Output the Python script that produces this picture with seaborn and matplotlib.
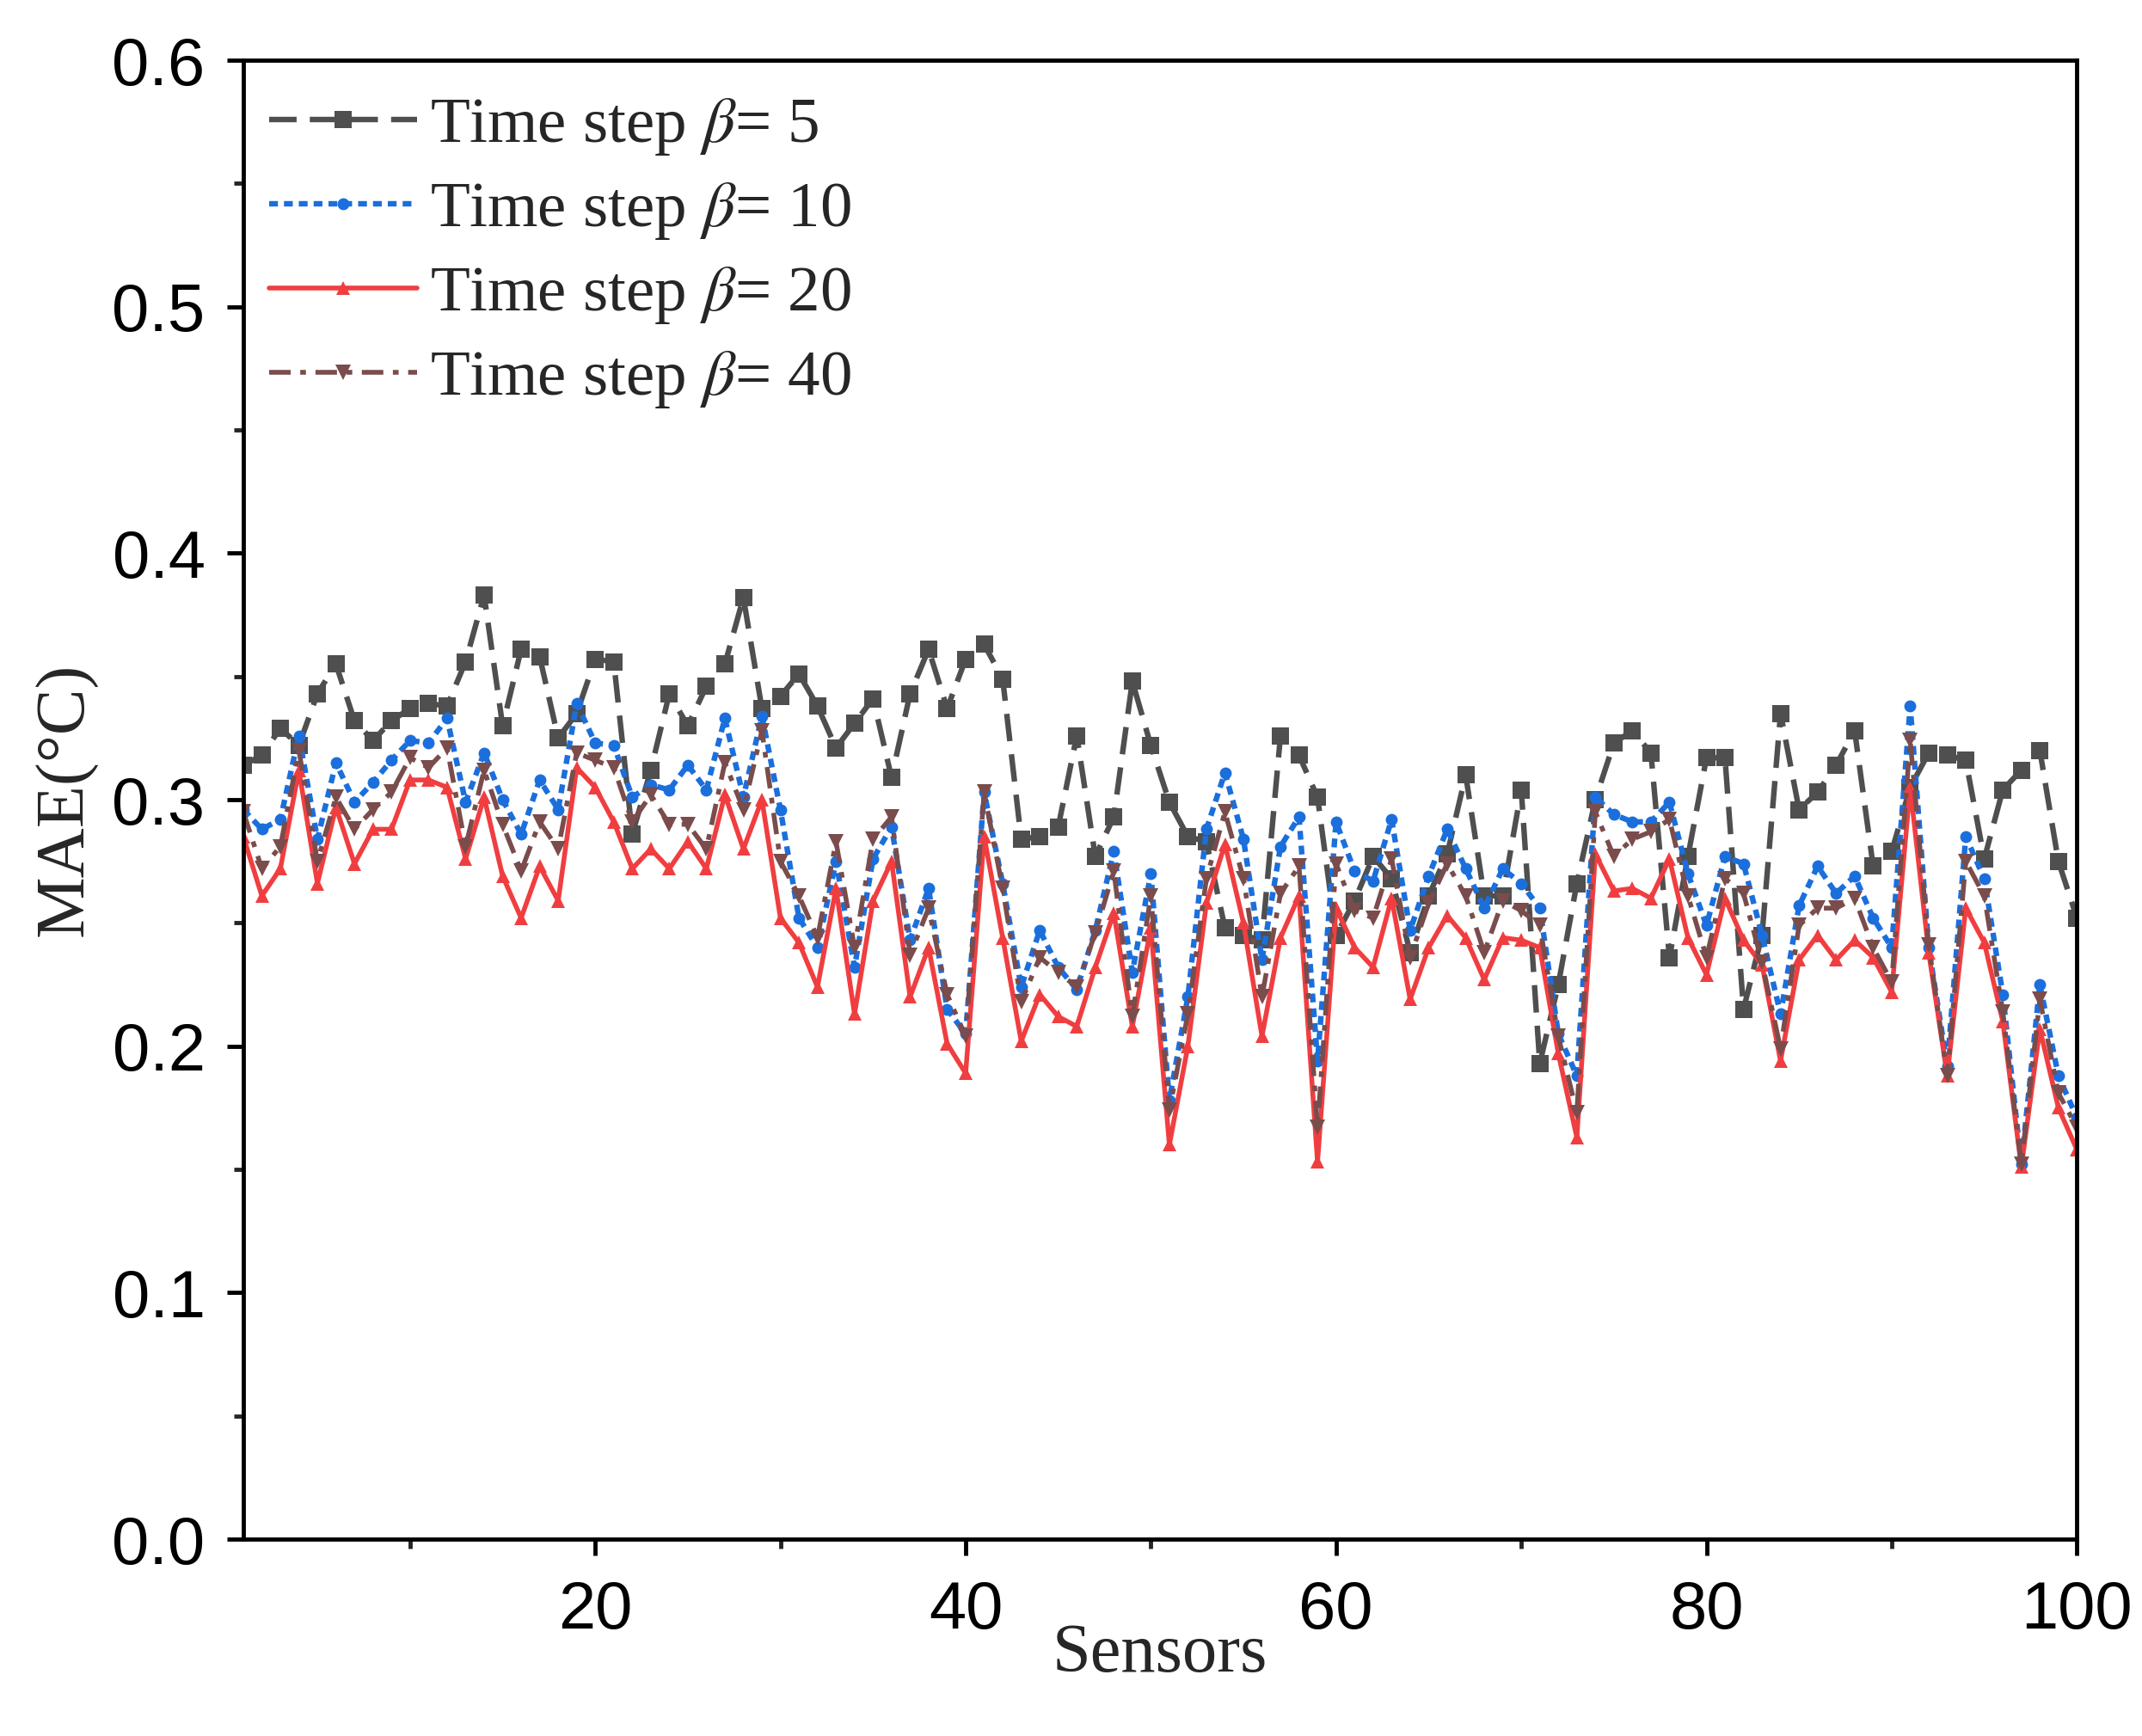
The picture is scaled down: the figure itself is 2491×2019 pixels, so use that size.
import numpy as np
import pandas as pd
import matplotlib
matplotlib.use("Agg")
import matplotlib.pyplot as plt
from matplotlib.ticker import MultipleLocator
import seaborn as sns

sensors = np.arange(1, 101)

mae_beta5 = [0.314, 0.318, 0.329, 0.322, 0.343, 0.355, 0.332, 0.324, 0.332, 0.337,
             0.339, 0.338, 0.356, 0.383, 0.330, 0.361, 0.358, 0.325, 0.335, 0.357,
             0.356, 0.286, 0.312, 0.343, 0.330, 0.346, 0.355, 0.382, 0.337, 0.342,
             0.351, 0.338, 0.321, 0.331, 0.341, 0.309, 0.343, 0.361, 0.337, 0.357,
             0.363, 0.349, 0.284, 0.285, 0.289, 0.326, 0.277, 0.293, 0.348, 0.322,
             0.299, 0.285, 0.283, 0.248, 0.245, 0.243, 0.326, 0.318, 0.301, 0.245,
             0.259, 0.277, 0.268, 0.238, 0.261, 0.278, 0.310, 0.261, 0.261, 0.304,
             0.193, 0.225, 0.266, 0.300, 0.323, 0.328, 0.319, 0.236, 0.277, 0.317,
             0.317, 0.215, 0.245, 0.335, 0.296, 0.303, 0.314, 0.328, 0.273, 0.279,
             0.305, 0.319, 0.318, 0.316, 0.276, 0.304, 0.312, 0.320, 0.275, 0.252]

mae_beta10 = [0.296, 0.288, 0.292, 0.326, 0.284, 0.315, 0.299, 0.307, 0.316, 0.324,
              0.323, 0.333, 0.299, 0.319, 0.300, 0.286, 0.308, 0.296, 0.339, 0.323,
              0.322, 0.301, 0.306, 0.304, 0.314, 0.304, 0.333, 0.301, 0.334, 0.296,
              0.252, 0.240, 0.275, 0.232, 0.276, 0.289, 0.243, 0.264, 0.215, 0.205,
              0.303, 0.266, 0.224, 0.247, 0.232, 0.223, 0.247, 0.279, 0.230, 0.270,
              0.178, 0.220, 0.288, 0.311, 0.284, 0.235, 0.281, 0.293, 0.194, 0.291,
              0.271, 0.267, 0.292, 0.247, 0.269, 0.288, 0.272, 0.256, 0.272, 0.266,
              0.256, 0.205, 0.188, 0.301, 0.294, 0.291, 0.291, 0.299, 0.270, 0.249,
              0.277, 0.274, 0.245, 0.213, 0.257, 0.273, 0.262, 0.269, 0.252, 0.240,
              0.338, 0.240, 0.192, 0.285, 0.268, 0.221, 0.152, 0.225, 0.188, 0.171]

mae_beta20 = [0.285, 0.261, 0.272, 0.312, 0.266, 0.297, 0.274, 0.288, 0.288, 0.308,
              0.308, 0.305, 0.276, 0.301, 0.269, 0.252, 0.273, 0.259, 0.313, 0.305,
              0.291, 0.272, 0.280, 0.272, 0.283, 0.272, 0.302, 0.280, 0.300, 0.252,
              0.242, 0.224, 0.264, 0.213, 0.259, 0.275, 0.220, 0.240, 0.201, 0.189,
              0.285, 0.244, 0.202, 0.221, 0.212, 0.208, 0.232, 0.254, 0.208, 0.248,
              0.160, 0.200, 0.258, 0.282, 0.250, 0.204, 0.244, 0.261, 0.153, 0.256,
              0.240, 0.232, 0.260, 0.219, 0.240, 0.253, 0.244, 0.227, 0.244, 0.243,
              0.240, 0.197, 0.163, 0.278, 0.263, 0.264, 0.260, 0.276, 0.244, 0.229,
              0.260, 0.243, 0.233, 0.194, 0.235, 0.245, 0.235, 0.243, 0.236, 0.222,
              0.305, 0.238, 0.188, 0.256, 0.242, 0.210, 0.151, 0.207, 0.175, 0.158]

mae_beta40 = [0.295, 0.272, 0.281, 0.320, 0.275, 0.301, 0.288, 0.296, 0.303, 0.317,
              0.313, 0.321, 0.281, 0.312, 0.290, 0.271, 0.291, 0.280, 0.319, 0.316,
              0.313, 0.291, 0.302, 0.290, 0.290, 0.280, 0.315, 0.296, 0.328, 0.275,
              0.261, 0.244, 0.283, 0.240, 0.284, 0.293, 0.237, 0.256, 0.221, 0.204,
              0.303, 0.264, 0.218, 0.236, 0.230, 0.224, 0.246, 0.271, 0.212, 0.261,
              0.174, 0.213, 0.268, 0.295, 0.268, 0.220, 0.262, 0.273, 0.167, 0.274,
              0.255, 0.252, 0.276, 0.236, 0.258, 0.274, 0.261, 0.238, 0.259, 0.255,
              0.249, 0.204, 0.173, 0.295, 0.277, 0.284, 0.287, 0.292, 0.261, 0.236,
              0.268, 0.262, 0.234, 0.199, 0.249, 0.256, 0.256, 0.260, 0.240, 0.226,
              0.324, 0.241, 0.188, 0.275, 0.261, 0.214, 0.152, 0.219, 0.181, 0.167]

labels = [r"Time step $\beta$= 5", r"Time step $\beta$= 10",
          r"Time step $\beta$= 20", r"Time step $\beta$= 40"]

sns.set_style("ticks")
plt.rcParams["font.family"] = ["Liberation Sans", "DejaVu Sans"]
plt.rcParams["mathtext.fontset"] = "stix"

fig = plt.figure(figsize=(24.91, 20.19), dpi=100)
ax = fig.add_axes([0.1136, 0.1134, 0.8560, 0.8519])

styles = [
    dict(color="#4f4f4f", linestyle=(0, (5, 2.4)), marker="s", markersize=14, linewidth=4.6),
    dict(color="#1b6fdc", linestyle=(0, (1.6, 1.1)), marker="o", markersize=10, linewidth=4.6),
    dict(color="#f03e40", linestyle="-", marker="^", markersize=12, linewidth=4.0),
    dict(color="#7a4c4c", linestyle=(0, (4.5, 2.0, 1.2, 2.0)), marker="v", markersize=13, linewidth=4.0),
]
series = [mae_beta5, mae_beta10, mae_beta20, mae_beta40]

for vals, lab, st in zip(series, labels, styles):
    df = pd.DataFrame({"Sensors": sensors, "MAE": vals})
    sns.lineplot(data=df, x="Sensors", y="MAE", ax=ax, label=lab,
                 markeredgewidth=0, **st)

ax.set_xlim(1, 100)
ax.set_ylim(0, 0.6)
ax.xaxis.set_major_locator(MultipleLocator(20))
ax.xaxis.set_minor_locator(MultipleLocator(10))
ax.yaxis.set_major_locator(MultipleLocator(0.1))
ax.yaxis.set_minor_locator(MultipleLocator(0.05))
ax.yaxis.set_major_formatter(matplotlib.ticker.FormatStrFormatter("%.1f"))

ax.tick_params(axis="both", which="major", direction="out", length=14, width=3.5,
               labelsize=56, colors="black")
ax.tick_params(axis="x", which="major", pad=20)
ax.tick_params(axis="y", which="major", pad=18)
ax.tick_params(axis="both", which="minor", direction="out", length=8, width=3.5)
for sp in ax.spines.values():
    sp.set_linewidth(3.5)
    sp.set_color("black")
    sp.set_visible(True)

ax.set_xlabel("Sensors", fontsize=58, family="Liberation Serif", labelpad=-16)
ax.set_ylabel("MAE(°C)", fontsize=58, family="Liberation Serif", labelpad=12)

ax.legend(loc="upper left", frameon=False, prop={"family": "Liberation Serif", "size": 54},
          handlelength=2.3, handletextpad=0.2, labelspacing=0.36,
          borderaxespad=0.0, bbox_to_anchor=(0.0, 0.993))

fig.savefig("out.png", dpi=100, facecolor="white")
